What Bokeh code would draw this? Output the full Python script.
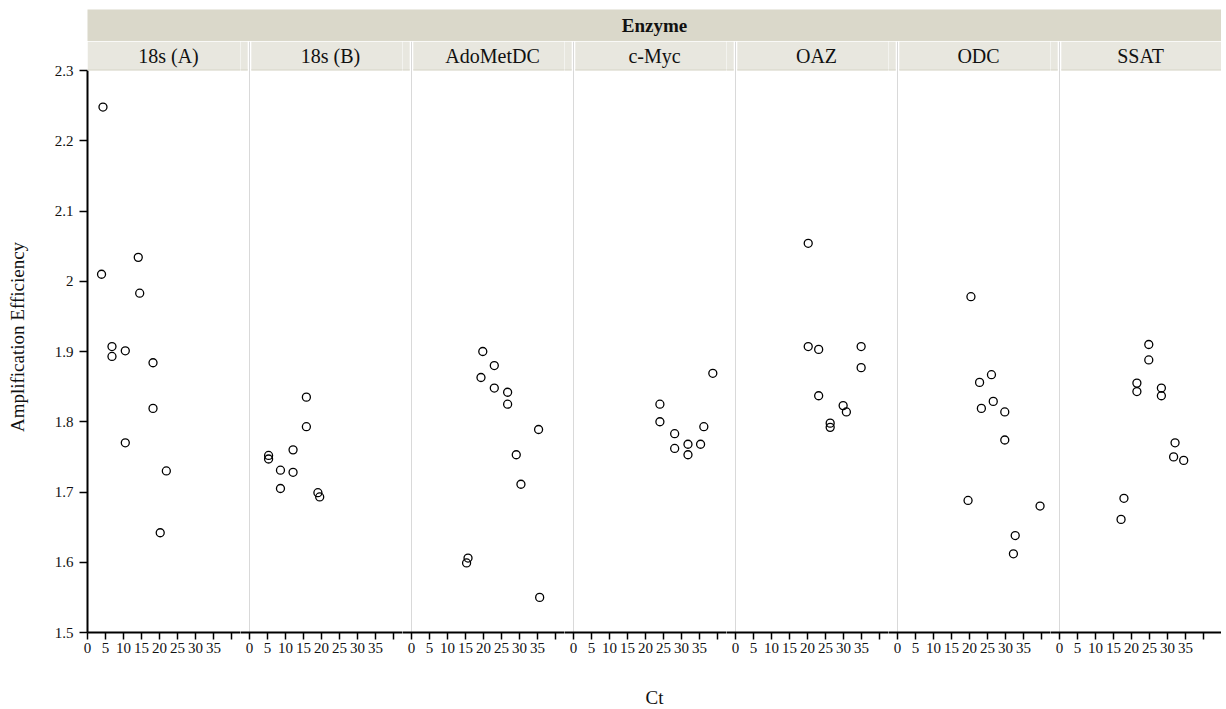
from bokeh.plotting import figure
from bokeh.layouts import column, row
from bokeh.models import Range1d, FixedTicker, NumeralTickFormatter, Label, BoxAnnotation
from bokeh.embed import file_html
from bokeh.resources import INLINE

# ---------------- data ----------------
enzymes = ["18s (A)", "18s (B)", "AdoMetDC", "c-Myc", "OAZ", "ODC", "SSAT"]

ct_18sA = [4.3, 14.1, 3.9, 14.5, 6.8, 6.8, 10.5, 18.2, 18.2, 10.5, 21.9, 20.2]
eff_18sA = [2.248, 2.034, 2.010, 1.983, 1.907, 1.893, 1.901, 1.884, 1.819, 1.770, 1.730, 1.642]

ct_18sB = [15.8, 15.8, 12.1, 5.3, 5.3, 8.6, 12.1, 8.6, 19.0, 19.5]
eff_18sB = [1.835, 1.793, 1.760, 1.752, 1.747, 1.731, 1.728, 1.705, 1.699, 1.693]

ct_adomet = [19.8, 23.0, 19.3, 23.0, 26.7, 26.7, 35.3, 29.1, 30.4, 15.7, 15.3, 35.6]
eff_adomet = [1.900, 1.880, 1.863, 1.848, 1.842, 1.825, 1.789, 1.753, 1.711, 1.606, 1.599, 1.550]

ct_cmyc = [38.7, 24.0, 24.0, 36.2, 28.1, 31.8, 35.3, 28.1, 31.8]
eff_cmyc = [1.869, 1.825, 1.800, 1.793, 1.783, 1.768, 1.768, 1.762, 1.753]

ct_oaz = [20.2, 20.2, 23.1, 34.9, 34.9, 23.1, 29.9, 30.8, 26.3, 26.3]
eff_oaz = [2.054, 1.907, 1.903, 1.907, 1.877, 1.837, 1.823, 1.814, 1.798, 1.792]

ct_odc = [20.4, 26.1, 22.8, 26.6, 23.3, 29.8, 29.8, 19.6, 39.6, 32.7, 32.2]
eff_odc = [1.978, 1.867, 1.856, 1.829, 1.819, 1.814, 1.774, 1.688, 1.680, 1.638, 1.612]

ct_ssat = [24.8, 24.8, 21.5, 21.5, 28.3, 28.3, 32.1, 31.7, 34.5, 17.9, 17.1]
eff_ssat = [1.910, 1.888, 1.855, 1.843, 1.848, 1.837, 1.770, 1.750, 1.745, 1.691, 1.661]

ct_series = [ct_18sA, ct_18sB, ct_adomet, ct_cmyc, ct_oaz, ct_odc, ct_ssat]
eff_series = [eff_18sA, eff_18sB, eff_adomet, eff_cmyc, eff_oaz, eff_odc, eff_ssat]

x_ticks = [0, 5, 10, 15, 20, 25, 30, 35, 40]
y_ticks = [1.5, 1.6, 1.7, 1.8, 1.9, 2.0, 2.1, 2.2, 2.3]

# ---------------- layout constants ----------------
FONT = "Liberation Serif"
LEFT = 87          # space for y axis
W = 162            # px per facet
PAD = 9            # px of a facet's left side drawn on the previous canvas
U = W / 45.0       # px per Ct unit
pad_u = PAD / U
gap_u = 1.8 / U
DATA_H = 562       # px of the data area
HDR = 29           # px of facet header
Y0, Y1 = 1.5, 2.3
PXY = (Y1 - Y0) / DATA_H
y_top = Y1 + PXY * HDR
y_hdr_mid = Y1 + PXY * (HDR / 2.0)
BAND = "#dad8ca"
SUB = "#e8e7df"
SUB_EDGE = "#dddbcf"
TXT = "#111111"
N = len(enzymes)
FAR = 200.0


def clean(p):
    p.toolbar_location = None
    p.min_border = 0
    p.outline_line_color = None
    p.background_fill_color = "white"
    p.border_fill_color = "white"
    return p


# ----- "Enzyme" band -----
band = figure(frame_width=N * W, frame_height=32, x_range=Range1d(0, 1), y_range=Range1d(0, 1),
              output_backend="svg", toolbar_location=None, x_axis_location=None, y_axis_location=None)
clean(band)
band.min_border_left = LEFT
band.min_border_top = 9
band.background_fill_color = BAND
band.grid.visible = False
band.add_layout(Label(x=0.5, y=0.5, text="Enzyme", text_align="center", text_baseline="middle",
                      text_font=FONT, text_font_size="19px", text_font_style="bold", text_color=TXT))

# ----- data panels (with facet header on top) -----
panels = []
for i in range(N):
    if i == 0:
        xr = Range1d(0, 45 - pad_u)
        fw = W - PAD
    elif i == N - 1:
        xr = Range1d(-pad_u, 45)
        fw = W + PAD
    else:
        xr = Range1d(-pad_u, 45 - pad_u)
        fw = W
    p = figure(frame_width=fw, frame_height=DATA_H + HDR, x_range=xr, y_range=Range1d(Y0, y_top),
               output_backend="svg", toolbar_location=None,
               y_axis_location="left" if i == 0 else None)
    clean(p)
    p.min_border_bottom = 32
    if i == 0:
        p.min_border_left = LEFT
        ya = p.yaxis[0]
        ya.bounds = (Y0, Y1)
        ya.ticker = FixedTicker(ticks=y_ticks)
        ya.formatter = NumeralTickFormatter(format="0.[0]")
        ya.axis_label = "Amplification Efficiency"
        ya.axis_label_text_font = FONT
        ya.axis_label_text_font_size = "19px"
        ya.axis_label_text_font_style = "normal"
        ya.axis_label_text_color = TXT
        ya.axis_label_standoff = 24
        ya.major_label_text_font = FONT
        ya.major_label_text_font_size = "15px"
        ya.major_label_text_color = TXT
        ya.major_label_standoff = 6
        ya.major_tick_in = 0
        ya.major_tick_out = 8
        ya.major_tick_line_width = 1.5
        ya.minor_tick_line_color = None
        ya.axis_line_width = 2
        ya.axis_line_color = "black"
    xa = p.xaxis[0]
    xa.ticker = FixedTicker(ticks=x_ticks)
    xa.major_label_overrides = {40: ""}
    xa.major_label_text_font = FONT
    xa.major_label_text_font_size = "15px"
    xa.major_label_text_color = TXT
    xa.major_label_standoff = 3
    xa.major_tick_in = 0
    xa.major_tick_out = 7
    xa.major_tick_line_width = 1.5
    xa.minor_tick_line_color = None
    xa.axis_line_width = 2
    xa.axis_line_color = "black"
    p.ygrid.visible = False
    if i == 0:
        p.xgrid.visible = False
    else:
        p.xgrid.ticker = FixedTicker(ticks=[0])
        p.xgrid.grid_line_color = "#d9d9d9"
        p.xgrid.grid_line_width = 1
    # facet header strip (two pieces around the facet boundary)
    if i == 0:
        spans = [(0, FAR)]
    else:
        spans = [(-FAR, -gap_u), (gap_u, FAR)]
    for l, r in spans:
        p.add_layout(BoxAnnotation(bottom=Y1, left=l, right=r, fill_color=SUB,
                                   fill_alpha=1.0, line_color=None))
        p.add_layout(BoxAnnotation(bottom=Y1, top=Y1 + PXY * 1.2, left=l, right=r,
                                   fill_color=SUB_EDGE, fill_alpha=1.0, line_color=None))
    p.add_layout(Label(x=22.5, y=y_hdr_mid, text=enzymes[i], text_align="center",
                       text_baseline="middle", text_font=FONT, text_font_size="20px",
                       text_color=TXT))
    p.scatter(x=ct_series[i], y=eff_series[i], marker="circle", size=8,
              fill_color=None, line_color="black", line_width=1.3)
    panels.append(p)

# ----- shared x-axis title -----
foot = figure(frame_width=N * W, frame_height=44, x_range=Range1d(0, 1), y_range=Range1d(0, 1),
              output_backend="svg", toolbar_location=None, x_axis_location=None, y_axis_location=None)
clean(foot)
foot.min_border_left = LEFT
foot.grid.visible = False
foot.add_layout(Label(x=0.5, y=0.25, text="Ct", text_align="center", text_baseline="middle",
                      text_font=FONT, text_font_size="19px", text_color=TXT))

layout = column(band, row(*panels), foot)
open("out.html", "w").write(file_html(layout, INLINE))
